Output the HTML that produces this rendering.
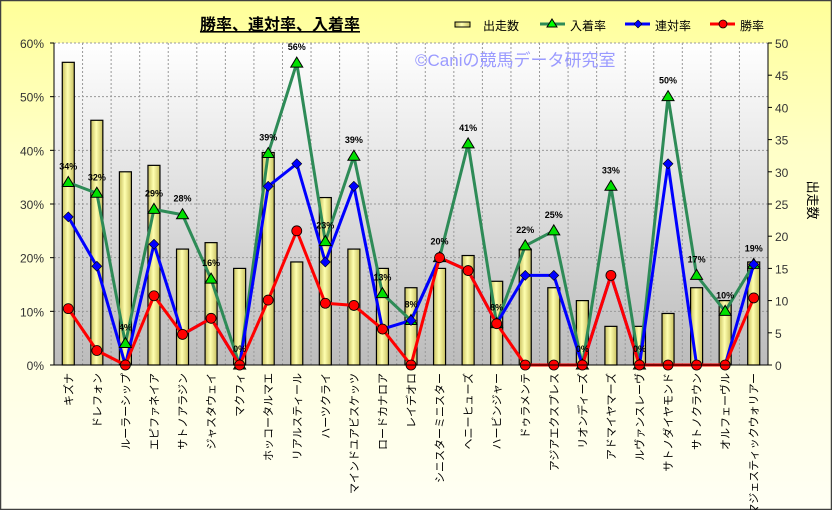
<!DOCTYPE html>
<html><head><meta charset="utf-8"><style>
html,body{margin:0;padding:0;background:#fff}
svg{display:block}
text{font-family:"Liberation Sans","Noto Sans CJK JP",sans-serif}
</style></head><body>
<svg id="c" width="832" height="510" viewBox="0 0 832 510" xmlns="http://www.w3.org/2000/svg">
<defs>
<linearGradient id="bg" x1="0" y1="0" x2="0" y2="1"><stop offset="0" stop-color="#ffff99"/><stop offset="0.3" stop-color="#ffffc8"/><stop offset="1" stop-color="#fffff4"/></linearGradient>
<linearGradient id="pa" x1="0" y1="0" x2="0" y2="1"><stop offset="0" stop-color="#ffffff"/><stop offset="1" stop-color="#bcbcbc"/></linearGradient>
<linearGradient id="bar" x1="0" y1="0" x2="1" y2="0"><stop offset="0" stop-color="#c8c060"/><stop offset="0.45" stop-color="#ffffb0"/><stop offset="1" stop-color="#c8c060"/></linearGradient>
</defs>
<rect x="0.5" y="0.5" width="831" height="509" fill="url(#bg)" stroke="#404040" stroke-width="1.5"/>
<rect x="54" y="43" width="714" height="322" fill="url(#pa)"/>
<g id="grid" stroke="#999" stroke-dasharray="2,2" stroke-width="1"></g>
<text x="280" y="30" font-size="16" font-weight="bold" text-anchor="middle" text-decoration="underline">勝率、連対率、入着率</text>
<text x="415" y="66" font-size="17" fill="#9a9aff">©Caniの競馬データ研究室</text>
<rect x="455" y="22" width="15" height="5" fill="url(#bar)" stroke="#000"/>
<text x="483" y="30" font-size="12">出走数</text>
<line x1="540" y1="24" x2="565" y2="24" stroke="#2e8b57" stroke-width="3"/><polygon points="552,19 557,27 547,27" fill="#0f0" stroke="#000"/>
<text x="570" y="30" font-size="12">入着率</text>
<line x1="625" y1="24" x2="650" y2="24" stroke="#00f" stroke-width="3"/><polygon points="638,20 642,24 638,28 634,24" fill="#00f" stroke="#000" stroke-width=".6"/>
<text x="655" y="30" font-size="12">連対率</text>
<line x1="710" y1="24" x2="735" y2="24" stroke="#f00" stroke-width="3"/><circle cx="723" cy="24" r="4" fill="#f00" stroke="#000" stroke-width=".8"/>
<text x="740" y="30" font-size="12">勝率</text>
<g id="dyn"></g>
<line x1="54" y1="43" x2="54" y2="365" stroke="#000"/>
<line x1="768" y1="43" x2="768" y2="365" stroke="#000"/>
<line x1="54" y1="365" x2="768" y2="365" stroke="#000"/>
<text x="808" y="200" font-size="13" transform="rotate(90 808 200)" text-anchor="middle">出走数</text>
</svg>
<script>
const names=["キズナ","ドレフォン","ルーラーシップ","エピファネイア","サトノアラジン","ジャスタウェイ","マクフィ","ホッコータルマエ","リアルスティール","ハーツクライ","マインドユアビスケッツ","ロードカナロア","レイデオロ","シニスターミニスター","ヘニーヒューズ","ハービンジャー","ドゥラメンテ","アジアエクスプレス","リオンディーズ","アドマイヤマーズ","ルヴァンスレーヴ","サトノダイヤモンド","サトノクラウン","オルフェーヴル","マジェスティックウォリアー"];
const cnt=[47,38,30,31,18,19,15,33,16,26,18,15,12,15,17,13,18,12,10,6,6,8,12,10,16];
const g=[34,32,4,29,28,16,0,39.4,56.25,23,38.9,13.3,8.3,20,41.2,7.7,22.2,25,0,33.3,0,50,16.7,10,18.75];
const b=[27.6,18.4,0,22.5,5.7,8.7,0,33.3,37.5,19.2,33.3,6.7,8.3,20,17.6,7.7,16.7,16.7,0,16.7,0,37.5,0,0,18.75];
const r=[10.5,2.7,0,12.9,5.7,8.7,0,12.1,25,11.5,11.1,6.7,0,20,17.6,7.7,0,0,0,16.7,0,0,0,0,12.5];
const NS="http://www.w3.org/2000/svg";
function el(p,t,a,txt){const e=document.createElementNS(NS,t);for(const k in a)e.setAttribute(k,a[k]);if(txt!==undefined)e.textContent=txt;p.appendChild(e);return e;}
const d=document.getElementById('dyn'),gr=document.getElementById('grid'),svg=document.getElementById('c');
const W=714/25,cx=i=>54+W*(i+.5),yp=v=>365-v*322/60,yc=v=>365-v*6.44;
for(let i=1;i<25;i++)el(gr,'line',{x1:54+W*i,y1:43,x2:54+W*i,y2:365});
for(let k=1;k<=6;k++)el(gr,'line',{x1:54,y1:yp(k*10),x2:768,y2:yp(k*10)});
for(let k=0;k<=6;k++){el(svg,'text',{x:44,y:yp(k*10)+5,'font-size':12,'text-anchor':'end',fill:'#333'},k*10+'%');el(svg,'line',{x1:50,y1:yp(k*10),x2:54,y2:yp(k*10),stroke:'#000'});}
for(let k=0;k<=10;k++){el(svg,'text',{x:775,y:yc(k*5)+5,'font-size':12,fill:'#333'},k*5);el(svg,'line',{x1:768,y1:yc(k*5),x2:772,y2:yc(k*5),stroke:'#000'});}
for(let i=0;i<25;i++){el(d,'rect',{x:cx(i)-6,y:yc(cnt[i]),width:12,height:365-yc(cnt[i]),fill:'url(#bar)',stroke:'#000','stroke-width':1.2});
 el(svg,'text',{x:0,y:0,'font-size':11,'text-anchor':'end',transform:`translate(${cx(i)+4},373) rotate(-90)`},names[i]);}
function line(arr,col){el(d,'polyline',{points:arr.map((v,i)=>cx(i)+','+yp(v)).join(' '),fill:'none',stroke:col,'stroke-width':3,'stroke-linejoin':'round'});}
line(g,'#2e8b57');line(b,'#0000ff');line(r,'#ff0000');
g.forEach((v,i)=>{const x=cx(i),y=yp(v);el(d,'polygon',{points:`${x},${y-6} ${x+6},${y+4} ${x-6},${y+4}`,fill:'#00e000',stroke:'#000','stroke-width':1});});
b.forEach((v,i)=>{const x=cx(i),y=yp(v);el(d,'polygon',{points:`${x},${y-5} ${x+5},${y} ${x},${y+5} ${x-5},${y}`,fill:'#0000ff',stroke:'#000','stroke-width':.6});});
r.forEach((v,i)=>{el(d,'circle',{cx:cx(i),cy:yp(r[i]),r:5,fill:'#f00',stroke:'#000','stroke-width':.8});});
g.forEach((v,i)=>{el(d,'text',{x:cx(i),y:yp(v)-13,'font-size':9,'font-weight':'bold','text-anchor':'middle'},Math.round(v)+'%');});
</script>
</body></html>
